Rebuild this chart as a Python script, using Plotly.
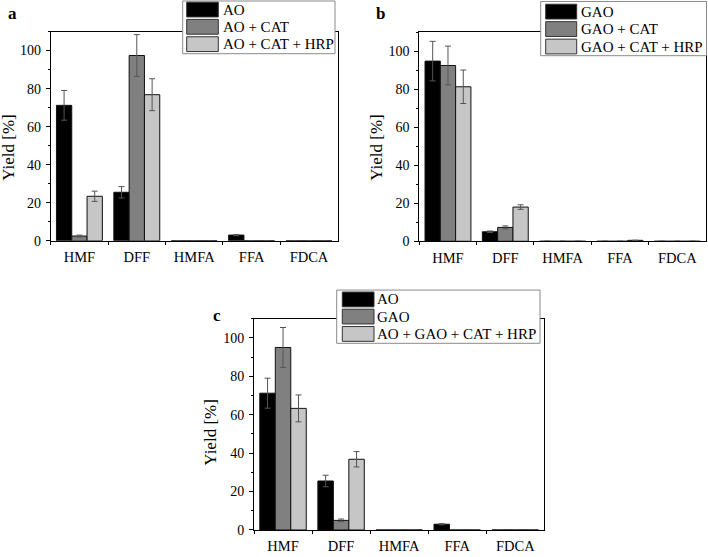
import plotly.graph_objects as go

W, H = 708, 557
FONT = "Liberation Serif"

categories = ["HMF", "DFF", "HMFA", "FFA", "FDCA"]

# Panel a
a_names = ["AO", "AO + CAT", "AO + CAT + HRP"]
a_vals = [
    [71.2, 25.5, 0, 3.0, 0],
    [2.5, 97.4, 0, 0, 0],
    [23.4, 76.8, 0, 0, 0],
]
a_errs = [
    [7.8, 3.0, 0, 0.3, 0],
    [0.5, 11.0, 0, 0, 0],
    [2.7, 8.4, 0, 0, 0],
]

# Panel b
b_names = ["GAO", "GAO + CAT", "GAO + CAT + HRP"]
b_vals = [
    [94.8, 5.0, 0, 0, 0],
    [92.5, 7.3, 0, 0, 0],
    [81.3, 18.0, 0, 0.5, 0],
]
b_errs = [
    [10.4, 0.4, 0, 0, 0],
    [10.2, 0.8, 0, 0, 0],
    [8.8, 1.2, 0, 0, 0],
]

# Panel c
c_names = ["AO", "GAO", "AO + GAO + CAT + HRP"]
c_vals = [
    [71.2, 25.5, 0, 3.0, 0],
    [95.0, 5.0, 0, 0, 0],
    [63.3, 36.8, 0, 0, 0],
]
c_errs = [
    [7.8, 3.0, 0, 0.3, 0],
    [10.4, 0.7, 0, 0, 0],
    [7.0, 4.0, 0, 0, 0],
]

y_ticks = [0, 20, 40, 60, 80, 100]
colors = ["#000000", "#808080", "#c6c6c6"]


def px_x(p):
    return p / W


def px_y(p):
    return 1 - p / H


panels = [
    ("", a_names, a_vals, a_errs, (50.7, 337.7), (32.0, 244.3), "a", (12, 14), (9, 150),
     dict(box=(182.7, 335, 1, 54.5), sw=(186.7, 218.3), rows=(9.7, 27.2, 44.8), tx=220.5)),
    ("2", b_names, b_vals, b_errs, (419.3, 706.0), (32.7, 244.8), "b", (380, 14), (377, 149),
     dict(box=(540.7, 706.5, 1.5, 56.5), sw=(545.7, 576.7), rows=(11.8, 29.5, 47.2), tx=578.5)),
    ("3", c_names, c_vals, c_errs, (254.0, 544.3), (323.3, 537.7), "c", (216.5, 320), (211, 439),
     dict(box=(336.7, 540.0, 294.3, 348.3), sw=(342.3, 374.0), rows=(303.8, 321.2, 338.8), tx=375.5)),
]

fig = go.Figure()
shapes = []
annotations = []

for suf, names, vals, errs, xp, yp, lab, labpos, ytpos, leg in panels:
    for i, nm in enumerate(names):
        fig.add_trace(go.Bar(
            x=categories, y=vals[i], name=nm,
            xaxis="x" + suf, yaxis="y" + suf,
            marker=dict(color=colors[i], line=dict(color="#111111", width=1)),
            error_y=dict(type="data", array=errs[i], visible=True,
                         color="#555555", thickness=1, width=3),
            showlegend=False,
        ))
    xa = dict(
        domain=[px_x(xp[0]), px_x(xp[1])], anchor="y" + suf,
        type="category", categoryorder="array", categoryarray=categories,
        range=[-0.5, 4.5], showline=True, linecolor="black", linewidth=1,
        mirror=True, ticks="outside", tickson="boundaries", ticklen=3,
        tickcolor="black", showgrid=False, zeroline=False,
        ticklabelstandoff=3,
        tickfont=dict(family=FONT, size=14.5, color="black"),
    )
    ya = dict(
        domain=[px_y(yp[1]), px_y(yp[0])], anchor="x" + suf,
        range=[0, 110], tickvals=y_ticks, showline=True, linecolor="black",
        linewidth=1, mirror=True, ticks="outside", ticklen=4, tickcolor="black",
        minor=dict(dtick=10, tick0=0, ticks="outside", ticklen=2, tickcolor="black"),
        showgrid=False, zeroline=False,
        ticklabelstandoff=2,
        tickfont=dict(family=FONT, size=14, color="black"),
    )
    fig.update_layout(**{"xaxis" + suf: xa, "yaxis" + suf: ya})

    annotations.append(dict(
        text="<b>%s</b>" % lab, x=px_x(labpos[0]), y=px_y(labpos[1]),
        xref="paper", yref="paper", showarrow=False, xanchor="center", yanchor="middle",
        font=dict(family=FONT, size=17, color="black")))
    annotations.append(dict(
        text="Yield [%]", x=px_x(ytpos[0]), y=px_y(ytpos[1]), textangle=-90,
        xref="paper", yref="paper", showarrow=False, xanchor="center", yanchor="middle",
        font=dict(family=FONT, size=17, color="black")))

    bx0, bx1, by0, by1 = leg["box"]
    shapes.append(dict(type="rect", xref="paper", yref="paper",
                       x0=px_x(bx0), x1=px_x(bx1), y0=px_y(by1), y1=px_y(by0),
                       line=dict(color="#8a8a8a", width=1), fillcolor="white", layer="above"))
    for i, nm in enumerate(names):
        cy = leg["rows"][i]
        shapes.append(dict(type="rect", xref="paper", yref="paper",
                           x0=px_x(leg["sw"][0]), x1=px_x(leg["sw"][1]),
                           y0=px_y(cy + 7.5), y1=px_y(cy - 7.5),
                           line=dict(color="#333333", width=1), fillcolor=colors[i],
                           layer="above"))
        annotations.append(dict(
            text=nm, x=px_x(leg["tx"]), y=px_y(cy), xref="paper", yref="paper",
            showarrow=False, xanchor="left", yanchor="middle",
            font=dict(family=FONT, size=15, color="black")))

fig.update_layout(
    width=W, height=H, autosize=False,
    margin=dict(l=0, r=0, t=0, b=0),
    paper_bgcolor="white", plot_bgcolor="white",
    barmode="group", bargap=0.2, bargroupgap=0,
    showlegend=False,
    shapes=shapes, annotations=annotations,
    font=dict(family=FONT, color="black"),
)

fig.write_html(
    "out.html",
    config={"displayModeBar": False},
    post_script="document.body.style.margin='0';document.body.style.overflow='hidden';",
)
